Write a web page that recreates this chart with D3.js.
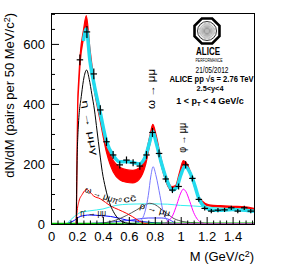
<!DOCTYPE html>
<html>
<head>
<meta charset="utf-8">
<script src="https://cdn.jsdelivr.net/npm/d3@7"></script>
<style>
  body { margin: 0; background: #fff; }
  text { font-family: "Liberation Sans Narrow", "Liberation Sans", Arial, sans-serif; }
</style>
</head>
<body>
<script>
// axis ticks
const xTicks = [0, 0.2, 0.4, 0.6, 0.8, 1, 1.2, 1.4];
const xTickLabels = ["0", "0.2", "0.4", "0.6", "0.8", "1", "1.2", "1.4"];
const yTicks = [0, 200, 400, 600];

// measured dimuon spectrum
const dataM   = [0.223,0.277,0.330,0.380,0.428,0.479,0.530,0.582,0.633,0.685,0.736,0.782,0.833,0.885,0.936,0.984,1.038,1.090,1.140,1.185,1.236,1.287,1.338,1.390,1.440,1.490,1.540];
const dataY   = [547,640,500,380,274,230,197,213,204,193,230,305,235,150,113,125,197,152,82,52,43,46,47,54,43,54,43];
const dataErr = [18,20,18,16,14,13,12,12,12,12,13,15,13,11,10,10,12,10,8,7,7,7,7,7,7,7,7];

// total cocktail (red band): mass, centre, half width
const cocktailM  = [0.195,0.2,0.205,0.215,0.225,0.25,0.272,0.3,0.33,0.38,0.43,0.48,0.53,0.58,0.63,0.68,0.73,0.76,0.785,0.81,0.85,0.9,0.93,0.96,0.99,1.02,1.05,1.09,1.14,1.19,1.25,1.3,1.4,1.5,1.565];
const cocktailY  = [0,200,380,480,550,630,672,570,470,355,250,192,168,160,158,168,215,275,318,285,205,135,118,122,165,205,195,150,88,66,60,59,57,55,50];
const cocktailHW = [0,8,10,12,13,15,22,15,13,13,15,19,21,21,21,19,16,14,14,12,10,8,7,6,6,6,5,4,3,2.5,2,2,2,2,2];

// fit to data (cyan band)
const fitM = [0.25,0.272,0.3,0.33,0.38,0.43,0.48,0.53,0.58,0.63,0.68,0.73,0.76,0.785,0.81,0.85,0.9,0.935,0.97,1.0,1.035,1.07,1.1,1.14,1.19,1.25,1.3,1.35,1.4,1.45,1.5,1.565];
const fitY = [610,650,545,470,370,272,228,207,208,205,200,228,272,308,272,205,138,113,123,163,192,172,140,85,55,46,46,47,48,47,46,42];

// cocktail components
const etaDalitz   = [[0.195,0],[0.2,180],[0.21,320],[0.235,430],[0.255,490],[0.275,513],[0.295,482],[0.315,432],[0.335,380],[0.355,310],[0.375,240],[0.395,175],[0.42,120],[0.45,72],[0.48,42],[0.51,22],[0.55,8],[0.6,2],[0.65,0]];
const omegaDalitz = [[0.195,0],[0.2,35],[0.215,75],[0.24,98],[0.265,113],[0.28,115],[0.3,106],[0.33,93],[0.38,84],[0.42,72],[0.46,60],[0.52,48],[0.58,36],[0.63,24],[0.68,10],[0.72,2],[0.75,0]];
const openCharm   = [[0.12,0],[0.18,25],[0.225,38],[0.3,44],[0.4,50],[0.5,62],[0.6,66],[0.7,67],[0.8,67],[0.9,66],[1.0,62],[1.1,60],[1.2,57],[1.3,53],[1.4,50],[1.5,47],[1.565,45]];
const etaPrime    = [[0.12,0],[0.18,12],[0.225,25],[0.3,30],[0.38,28],[0.46,25],[0.52,20],[0.585,13],[0.65,10],[0.7,8],[0.75,6],[0.8,4],[0.9,2],[1.0,1],[1.2,0]];
const etaPrimeDal = [[0.3,2],[0.4,4],[0.5,8],[0.6,12],[0.68,17],[0.75,20],[0.85,20],[0.91,15],[0.95,5],[0.97,0]];
const rhoMuMu     = [[0.3,0],[0.4,3],[0.5,13],[0.58,28],[0.66,47],[0.72,62],[0.76,69],[0.8,65],[0.84,53],[0.9,33],[0.94,20],[1.0,10],[1.1,4],[1.2,2],[1.4,0]];
const omegaMuMu   = [[0.6,0],[0.66,3],[0.7,15],[0.73,50],[0.75,95],[0.77,160],[0.787,191],[0.81,160],[0.84,95],[0.86,50],[0.89,15],[0.93,3],[0.98,0]];
const phiMuMu     = [[0.84,0],[0.88,3],[0.91,12],[0.94,30],[0.97,65],[1.0,103],[1.02,116],[1.04,108],[1.07,75],[1.1,38],[1.13,15],[1.16,5],[1.2,1],[1.25,0]];
const etaMuMu     = [[0,2],[0.4,2],[0.8,3],[1.2,3],[1.565,3]];
const etaPrimeMuMu= [[0.85,0],[1.0,1],[1.565,1]];

const W = 283, H = 273;
const x = d3.scaleLinear().domain([0, 1.565]).range([51, 254]);
const y = d3.scaleLinear().domain([0, 703]).range([224, 13]);

const svg = d3.select("body").append("svg").attr("width", W).attr("height", H);

svg.append("clipPath").attr("id", "plot")
  .append("rect").attr("x", 51).attr("y", 13).attr("width", 203).attr("height", 211);

const plot = svg.append("g").attr("clip-path", "url(#plot)");

const line = d3.line().x(d => x(d[0])).y(d => y(d[1])).curve(d3.curveMonotoneX);

// red band
const band = cocktailM.map((m, i) => [m, cocktailY[i] - cocktailHW[i], cocktailY[i] + cocktailHW[i]]);
plot.append("path")
  .attr("d", d3.area().x(d => x(d[0])).y0(d => y(d[1])).y1(d => y(d[2])).curve(d3.curveMonotoneX)(band))
  .attr("fill", "#ff0000").attr("stroke", "#ff0000").attr("stroke-width", 1.2);

// cyan fit
plot.append("path").attr("d", line(fitM.map((m, i) => [m, fitY[i]])))
  .attr("fill", "none").attr("stroke", "#22dbee").attr("stroke-width", 3.5);

// components
const comps = [
  [openCharm, "#33f0f0", 1],
  [etaPrime, "#0000ff", 1],
  [etaPrimeDal, "#3030ff", 0.9],
  [rhoMuMu, "#555555", 1],
  [omegaMuMu, "#7777ff", 1],
  [phiMuMu, "#ff00ff", 1],
  [etaMuMu, "#00bb00", 1.2],
  [etaPrimeMuMu, "#cc44cc", 1],
  [omegaDalitz, "#ff0000", 1],
  [etaDalitz, "#000000", 1]
];
comps.forEach(c => {
  plot.append("path").attr("d", line(c[0]))
    .attr("fill", "none").attr("stroke", c[1]).attr("stroke-width", c[2]);
});

// data points
const pts = plot.selectAll(".pt").data(dataM.map((m, i) => [m, dataY[i], dataErr[i]]))
  .enter().append("g");
pts.append("line")
  .attr("x1", d => x(d[0] - 0.025)).attr("x2", d => x(d[0] + 0.025))
  .attr("y1", d => y(d[1])).attr("y2", d => y(d[1]))
  .attr("stroke", "#000").attr("stroke-width", 1.2);
pts.append("line")
  .attr("x1", d => x(d[0])).attr("x2", d => x(d[0]))
  .attr("y1", d => y(d[1] - d[2])).attr("y2", d => y(d[1] + d[2]))
  .attr("stroke", "#000").attr("stroke-width", 1.2);

// axes
const xMinor = d3.range(0, 1.56, 0.05).filter(v => Math.abs(v / 0.2 - Math.round(v / 0.2)) > 1e-6);
const yMinor = d3.range(0, 703, 50).filter(v => v % 200 !== 0);

svg.append("g").attr("transform", "translate(0,224)")
  .call(d3.axisBottom(x).tickValues(xMinor).tickSize(-3.5).tickSizeOuter(0).tickFormat(""))
  .call(g => g.select(".domain").remove());
svg.append("g").attr("transform", "translate(0,224)")
  .call(d3.axisBottom(x).tickValues(xTicks).tickSize(-7).tickSizeOuter(0).tickPadding(8)
    .tickFormat((d, i) => xTickLabels[i]))
  .call(g => g.select(".domain").remove())
  .call(g => g.selectAll("text").attr("font-size", 13).attr("fill", "#000"));

svg.append("g").attr("transform", "translate(51,0)")
  .call(d3.axisLeft(y).tickValues(yMinor).tickSize(-4).tickSizeOuter(0).tickFormat(""))
  .call(g => g.select(".domain").remove());
svg.append("g").attr("transform", "translate(51,0)")
  .call(d3.axisLeft(y).tickValues(yTicks).tickSize(-8).tickSizeOuter(0).tickPadding(6))
  .call(g => g.select(".domain").remove())
  .call(g => g.selectAll("text").attr("font-size", 13).attr("fill", "#000"));

svg.selectAll(".tick line").attr("stroke", "#000");

svg.append("rect").attr("x", 51.5).attr("y", 13.5).attr("width", 203).attr("height", 211)
  .attr("fill", "none").attr("stroke", "#000").attr("stroke-width", 1);

// axis titles
svg.append("text").attr("transform", "translate(14,13) rotate(-90)")
  .attr("text-anchor", "end").attr("font-size", 13)
  .html('dN/dM (pairs per 50 MeV/c<tspan dy="-4" font-size="9">2</tspan><tspan dy="4">)</tspan>');
svg.append("text").attr("x", 254).attr("y", 261)
  .attr("text-anchor", "end").attr("font-size", 13)
  .html('M (GeV/c<tspan dy="-4" font-size="9">2</tspan><tspan dy="4">)</tspan>');

// curve labels
function label(txt, m, v, angle, size, anchor, len) {
  const t = svg.append("text")
    .attr("transform", `translate(${x(m)},${y(v)}) rotate(${angle})`)
    .attr("text-anchor", anchor).attr("font-size", size).attr("fill", "#000")
    .attr("dominant-baseline", "middle")
    .html(txt);
  if (len) t.attr("textLength", len).attr("lengthAdjust", "spacingAndGlyphs");
}
label("ω → μμ", 0.778, 450, -90, 10, "middle", 40);
label("φ → μμ", 1.017, 287, -90, 10, "middle", 30);
label("η → μμγ", 0.295, 320, 80, 9, "middle", 56);
label('ω → μμπ<tspan dy="-3" font-size="6">0</tspan>', 0.40, 92, 21, 9, "middle", 38);
label("cc̄", 0.608, 82, -8, 9, "middle", 13);
label("η' → μμ", 0.225, 35, 0, 9, "start", 26);
label("ρ → μμ", 0.685, 60, 15, 9, "start", 31);

// ALICE logo
const lg = svg.append("g").attr("transform", "translate(207,31)");
const oct = d3.range(8).map(i => {
  const a = Math.PI / 8 + i * Math.PI / 4;
  return [13.5 * Math.cos(a), 13.5 * Math.sin(a)];
});
lg.append("path").attr("d", "M" + oct.join("L") + "Z")
  .attr("fill", "#fff").attr("stroke", "#000").attr("stroke-width", 2.6);
lg.append("circle").attr("r", 9.5).attr("fill", "#fff").attr("stroke", "#000").attr("stroke-width", 0.8);
d3.range(36).forEach(i => {
  const a = i * Math.PI / 18;
  lg.append("line")
    .attr("x1", 1.5 * Math.cos(a)).attr("y1", 1.5 * Math.sin(a))
    .attr("x2", 8.5 * Math.cos(a)).attr("y2", 8.5 * Math.sin(a))
    .attr("stroke", "#888").attr("stroke-width", 0.6);
});
lg.append("circle").attr("r", 2).attr("fill", "#bbb");

svg.append("text").attr("x", 208).attr("y", 55).attr("text-anchor", "middle")
  .attr("font-size", 10).attr("font-weight", "bold").attr("textLength", 24)
  .attr("lengthAdjust", "spacingAndGlyphs").text("ALICE");
svg.append("text").attr("x", 209).attr("y", 61.5).attr("text-anchor", "middle")
  .attr("font-size", 4.5).attr("textLength", 27)
  .attr("lengthAdjust", "spacingAndGlyphs").text("PERFORMANCE");
svg.append("text").attr("x", 212).attr("y", 72.5).attr("text-anchor", "middle")
  .attr("font-size", 9.5).attr("textLength", 33)
  .attr("lengthAdjust", "spacingAndGlyphs").text("21/05/2012");
svg.append("text").attr("x", 211.5).attr("y", 81.5).attr("text-anchor", "middle")
  .attr("font-size", 8.5).attr("font-weight", "bold").attr("textLength", 84)
  .attr("lengthAdjust", "spacingAndGlyphs").text("ALICE pp √s = 2.76 TeV");
svg.append("text").attr("x", 210).attr("y", 91).attr("text-anchor", "middle")
  .attr("font-size", 8).attr("font-weight", "bold").attr("textLength", 27)
  .attr("lengthAdjust", "spacingAndGlyphs").text("2.5<y<4");
svg.append("text").attr("x", 210).attr("y", 103.5).attr("text-anchor", "middle")
  .attr("font-size", 9).attr("font-weight", "bold")
  .html('1 &lt; p<tspan dy="2" font-size="6">T</tspan><tspan dy="-2"> &lt; 4 GeV/c</tspan>');
</script>
</body>
</html>
